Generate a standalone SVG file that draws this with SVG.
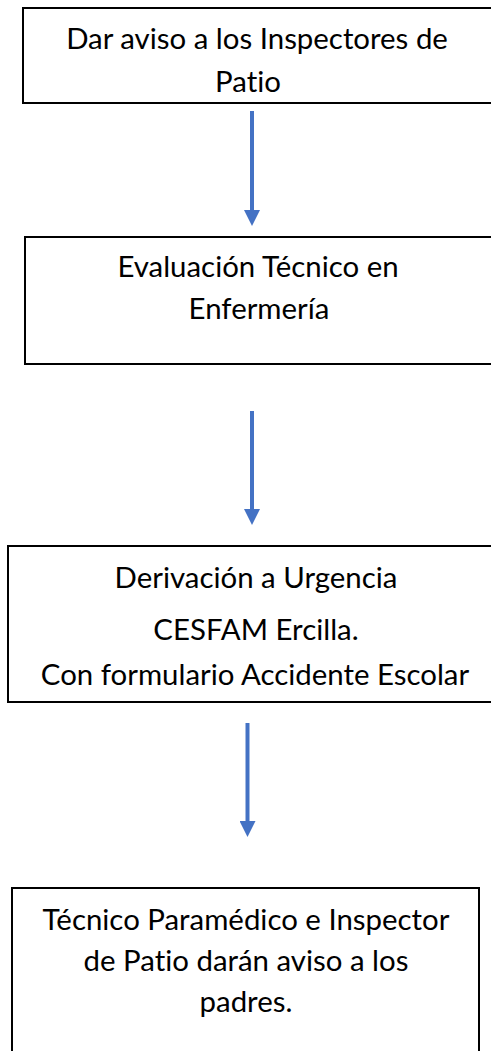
<svg xmlns="http://www.w3.org/2000/svg" width="491" height="1051" viewBox="0 0 491 1051">
<style>
.box{fill:#fff;stroke:#000;stroke-width:2}
.t{font-family:Lato,"Open Sans",sans-serif;font-size:29.4px;fill:#000;text-anchor:middle;font-variant-ligatures:none}
.c{stroke:#4472C4;stroke-width:4;fill:none}
</style>
<defs>
<marker id="ah" markerUnits="userSpaceOnUse" markerWidth="16" markerHeight="16" viewBox="0 0 16 16" refX="0" refY="8" orient="auto">
<path d="M0,0 L16,8 L0,16 z" fill="#4472C4"/>
</marker>
</defs>
<rect width="491" height="1051" fill="#fff"/>
<g id="n1">
<rect class="box" x="23" y="8" width="480" height="95"/>
<text class="t" x="257" y="49">Dar aviso a los Inspectores de</text>
<text class="t" x="248" y="92">Patio</text>
</g>
<g id="n2">
<rect class="box" x="25" y="237" width="480" height="127"/>
<text class="t" x="258" y="277">Evaluación Técnico en</text>
<text class="t" x="259" y="319">Enfermería</text>
</g>
<g id="n3">
<rect class="box" x="8" y="546" width="495" height="156"/>
<text class="t" x="256" y="588">Derivación a Urgencia</text>
<text class="t" x="256" y="640">CESFAM Ercilla.</text>
<text class="t" x="255" y="685">Con formulario Accidente Escolar</text>
</g>
<g id="n4">
<rect class="box" x="12" y="888" width="467" height="180"/>
<text class="t" x="246" y="930">Técnico Paramédico e Inspector</text>
<text class="t" x="246" y="971">de Patio darán aviso a los</text>
<text class="t" x="246" y="1012">padres.</text>
</g>
<g id="connectors">
<line class="c" x1="252" y1="111" x2="252" y2="210" marker-end="url(#ah)"/>
<line class="c" x1="252" y1="411" x2="252" y2="509" marker-end="url(#ah)"/>
<line class="c" x1="247.5" y1="723" x2="247.5" y2="821" marker-end="url(#ah)"/>
</g>
</svg>
